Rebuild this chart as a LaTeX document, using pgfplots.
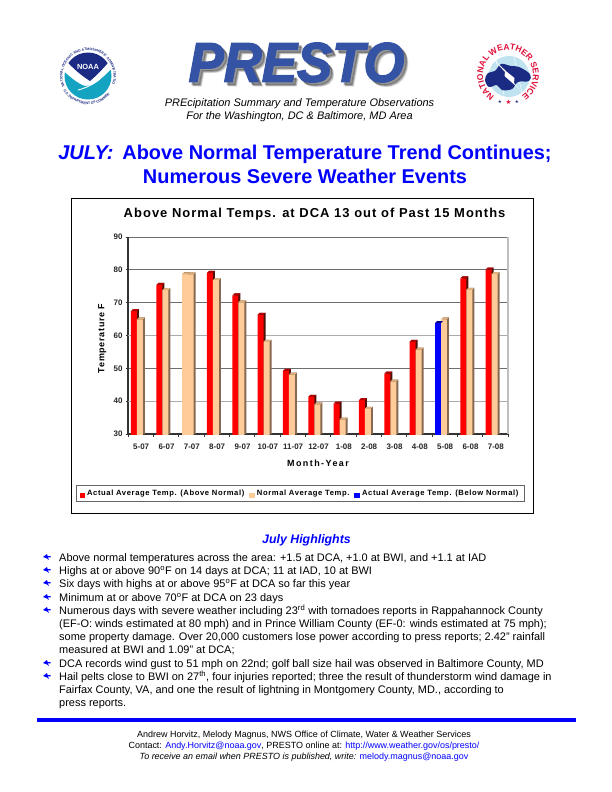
\documentclass[border=0pt]{standalone}
\usepackage{pgfplots}
\usepackage{pgfplotstable}
\usepackage{fontspec}
\pgfplotsset{compat=1.18}
\usetikzlibrary{decorations.text}
\setmainfont{Liberation Sans}
\newfontfamily\chartfont[LetterSpace=8]{Liberation Sans}
\newfontfamily\chartwide[LetterSpace=16]{Liberation Sans}
\newfontfamily\prestofont[FakeBold=2.5]{Liberation Sans}
\definecolor{peach}{HTML}{FFCC99}
\definecolor{peachside}{HTML}{86694F}
\definecolor{peachtop}{HTML}{DDB080}
\definecolor{redside}{HTML}{4A1208}
\definecolor{redtop}{HTML}{B00000}
\definecolor{blueside}{HTML}{000080}
\definecolor{prestoblue}{HTML}{3553A5}
\definecolor{noaanavy}{HTML}{1B2A83}
\definecolor{noaateal}{HTML}{14A3C0}
\definecolor{nwsred}{HTML}{E0103A}
\definecolor{nwspale}{HTML}{BFE3F0}
\definecolor{gridc}{HTML}{6E6E6E}
\definecolor{gridl}{HTML}{ABABAB}

\pgfdeclareplotmark{topface}{%
  \pgfpathmoveto{\pgfqpoint{-3bp}{-2bp}}%
  \pgfpathlineto{\pgfqpoint{-1bp}{0bp}}%
  \pgfpathlineto{\pgfqpoint{5bp}{0bp}}%
  \pgfpathlineto{\pgfqpoint{3bp}{-2bp}}%
  \pgfpathclose\pgfusepathqfill}

\pgfplotstableread{
x  above below near normal
0  68.0  nan   nan  65.5
1  76.0  nan   nan  74.4
2  nan   nan   79.2 79.2
3  79.7  nan   nan  77.5
4  72.8  nan   nan  70.7
5  66.9  nan   nan  58.7
6  49.8  nan   nan  48.7
7  41.9  nan   nan  39.6
8  39.9  nan   nan  35.0
9  40.9  nan   nan  38.3
10 49.0  nan   nan  46.6
11 58.7  nan   nan  56.3
12 nan   64.4  nan  65.5
13 78.0  nan   nan  74.5
14 80.7  nan   nan  79.3
}\tempdata

\newcommand{\backfaces}[5]{%
  \pgfmathsetmacro{\backshift}{#2+2}%
  \edef\temp{\noexpand\addplot[ybar,bar width=6bp,bar shift=\backshift bp,fill=#4,draw=none,forget plot] table[x=x,y=#1]{\noexpand\tempdata};}\temp
  \addplot[sharp plot,only marks,mark=topface,xshift=#2bp,mark options={fill=#5,draw=none},forget plot] table[x=x,y=#1]{\tempdata};
}
\newcommand{\frontface}[3]{%
  \addplot[ybar,bar width=6bp,bar shift=#2bp,yshift=-2bp,fill=#3,draw=none] table[x=x,y=#1]{\tempdata};
}

\begin{document}
\begin{tikzpicture}
\fill[white,use as bounding box] (0,0) rectangle (612bp,-792bp);

\begin{scope}[x=1bp,y=-1bp]
\draw[black,line width=1bp] (71,198) rectangle (533,513);
\end{scope}

\begin{axis}[
  at={(128bp,-434bp)},anchor=south west,
  scale only axis,width=380bp,height=197bp,
  xmin=-0.5,xmax=14.5,ymin=30,ymax=90,
  axis lines=left,axis line style={-,draw=black!80,line width=1.2bp},
  xtick={0,...,14},
  xticklabels={5-07,6-07,7-07,8-07,9-07,10-07,11-07,12-07,1-08,2-08,3-08,4-08,5-08,6-08,7-08},
  minor xtick={-0.5,0.5,...,14.5},
  ytick={30,50,70,80,90},
  extra y ticks={40,60},
  extra y tick style={grid style={gridl,line width=0.9bp}},
  ymajorgrids,grid style={gridc,line width=0.8bp},
  tick align=outside,
  major tick length=2.5bp,minor tick length=3bp,
  xtick style={draw=none},
  minor x tick style={draw=black!80,line width=0.7bp},
  ytick style={draw=black!80,line width=0.7bp},
  tick pos=left,
  /pgf/number format/assume math mode=true,
  tick label style={font=\fontsize{8}{9}\selectfont\bfseries\color{black!85}},
  xticklabel style={yshift=-4bp,xshift=0.5bp},
  yticklabel style={xshift=0.5bp},
  title={\chartfont\bfseries\fontsize{13}{15}\selectfont Above Normal Temps. at DCA 13 out of Past 15 Months},
  title style={at={(axis description cs:0.491,1.127)},anchor=center,yshift=-8bp},
  xlabel={\chartwide\bfseries\fontsize{9}{11}\selectfont Month-Year},
  xlabel style={at={(axis description cs:0.5,-0.147)},anchor=center},
  ylabel={\chartfont\bfseries\fontsize{9}{11}\selectfont Temperature F},
  ylabel style={at={(axis description cs:-0.068,0.485)},anchor=center,rotate=0},
  legend columns=3,
  legend style={at={(axis description cs:0.4526,-0.302)},anchor=center,
    draw=black!60,line width=0.7bp,fill=white,
    font=\chartfont\bfseries\fontsize{7.65}{9}\selectfont,
    inner xsep=3.5bp,inner ysep=2.5bp,
    /tikz/every even column/.append style={column sep=3bp},
    legend cell align=left},
  legend image code/.code={\fill[#1] (0bp,-2.8bp) rectangle (5.6bp,2.8bp);},
  clip=true,
  extra description/.code={
    \draw[black!25,line width=1.2bp] (rel axis cs:1,0) -- (rel axis cs:1,1);
  },
]
\backfaces{above}{-6.7}{}{redside}{redtop}
\frontface{above}{-6.7}{red}
\addlegendentry{Actual Average Temp. (Above Normal)}
\backfaces{below}{-6.7}{}{blueside}{blueside}
\backfaces{near}{-6.7}{}{peachside}{peachtop}
\addplot[ybar,bar width=6bp,bar shift=-6.7bp,yshift=-2bp,fill=peach,draw=none,forget plot] table[x=x,y=near]{\tempdata};
\backfaces{normal}{-0.7}{}{peachside}{peachtop}
\frontface{normal}{-0.7}{peach}
\addlegendentry{Normal Average Temp.}
\frontface{below}{-6.7}{blue}
\addlegendentry{Actual Average Temp. (Below Normal)}
\end{axis}

\begin{scope}[x=1bp,y=-1bp]
% masthead
\foreach \dx/\op in {4.2/0.1,3.4/0.15,2.6/0.22}{
  \node[font=\prestofont\bfseries\itshape\fontsize{56}{60}\selectfont,text=black,opacity=\op,xscale=0.945] at (296.5+\dx,62.5+\dx) {PRESTO};
}
\node[font=\prestofont\bfseries\itshape\fontsize{56}{60}\selectfont,text=prestoblue,xscale=0.945] at (296.5,62.5) {PRESTO};
\node[font=\itshape\fontsize{11}{13}\selectfont,anchor=base] at (299.5,106) {PREcipitation Summary and Temperature Observations};
\node[font=\itshape\fontsize{11}{13}\selectfont,anchor=base] at (299.5,119) {For the Washington, DC \& Baltimore, MD Area};
\node[font=\bfseries\fontsize{20}{24}\selectfont,text=blue,anchor=base] at (305,159) {\textit{JULY:}\hspace{9bp}Above Normal Temperature Trend Continues;};
\node[font=\bfseries\fontsize{20}{24}\selectfont,text=blue,anchor=base] at (305,183) {Numerous Severe Weather Events};
% highlights
\node[font=\bfseries\itshape\fontsize{12.4}{14}\selectfont,text=blue,anchor=base] at (306.5,543) {July Highlights};
\foreach \y/\t in {
 561/{Above normal temperatures across the area: +1.5 at DCA, +1.0 at BWI, and +1.1 at IAD},
 574/{Highs at or above 90\textsuperscript{o}F on 14 days at DCA; 11 at IAD, 10 at BWI},
 587/{Six days with highs at or above 95\textsuperscript{o}F at DCA so far this year},
 601/{Minimum at or above 70\textsuperscript{o}F at DCA on 23 days},
 614/{Numerous days with severe weather including 23\textsuperscript{rd} with tornadoes reports in Rappahannock County},
 627/{(EF-O: winds estimated at 80 mph) and in Prince William County (EF-0: winds estimated at 75 mph);},
 640/{some property damage. Over 20,000 customers lose power according to press reports; 2.42" rainfall},
 653/{measured at BWI and 1.09" at DCA;},
 667/{DCA records wind gust to 51 mph on 22nd; golf ball size hail was observed in Baltimore County, MD},
 680/{Hail pelts close to BWI on 27\textsuperscript{th}, four injuries reported; three the result of thunderstorm wind damage in},
 693/{Fairfax County, VA, and one the result of lightning in Montgomery County, MD., according to},
 706/{press reports.}
}{\node[font=\fontsize{11}{13}\selectfont,anchor=base west,inner sep=0pt] at (59,\y) {\t};}
\foreach \y in {557,570,583,597,610,663,676}{
  \fill[blue] (43,\y) -- (47,\y-3) -- (47.6,\y-1) -- (50.5,\y-1) -- (50.5,\y+0.3) -- (47.8,\y+0.3) -- (49,\y+3) -- (47.2,\y+1.6) -- cycle;
}
\fill[blue] (37,718) rectangle (576,722);
% footer
\node[font=\fontsize{9}{10}\selectfont,anchor=base] at (304,737) {Andrew Horvitz, Melody Magnus, NWS Office of Climate, Water \& Weather Services};
\node[font=\fontsize{9}{10}\selectfont,anchor=base] at (304,748) {Contact: \textcolor{blue}{Andy.Horvitz@noaa.gov}, PRESTO online at: \textcolor{blue}{http://www.weather.gov/os/presto/}};
\node[font=\fontsize{9}{10}\selectfont,anchor=base] at (304,759) {\textit{To receive an email when PRESTO is published, write:} \textcolor{blue}{melody.magnus@noaa.gov}};
\end{scope}

% NOAA logo
\begin{scope}[x=1bp,y=1bp,shift={(88bp,-76bp)}]
\begin{scope}
\clip (0,0) circle (23.5);
\fill[noaanavy] (-24,18) .. controls (-16,8) and (-6,0) .. (2,-5) .. controls (8,0) and (16,8) .. (24,18) -- (24,24) -- (-24,24) -- cycle;
\fill[noaateal] (-28,8) .. controls (-18,-1) and (-10,-8) .. (-3,-10) .. controls (7,-10) and (17,0) .. (28,12) -- (28,-30) -- (-28,-30) -- cycle;
\draw[white,line width=0.9bp] (-10,-14) .. controls (-2,-12) and (6,-8) .. (12,-3);
\end{scope}
\node[text=white,font=\bfseries\fontsize{7.5}{8}\selectfont] at (0,9.5) {NOAA};
\path[decorate,decoration={text along path,text align=center,
  text={|\bfseries\fontsize{3.5}{4}\selectfont\color{noaanavy}|NATIONAL OCEANIC AND ATMOSPHERIC ADMINISTRATION}}]
  (200:25.5) arc[start angle=200,end angle=-20,radius=25.5];
\path[decorate,decoration={text along path,text align=center,
  text={|\bfseries\fontsize{3.5}{4}\selectfont\color{noaanavy}|U.S. DEPARTMENT OF COMMERCE}}]
  (218:28.5) arc[start angle=218,end angle=322,radius=28.5];
\end{scope}

% NWS logo
\begin{scope}[x=1bp,y=1bp,shift={(508bp,-75bp)}]
\fill[nwspale] (1,-1.5) circle (20.5);
\draw[white,line width=0.4bp] (-19,6) -- (21,6) (-12,15) -- (-4,-20) (6,18) -- (14,-18);
\fill[noaanavy] plot[smooth cycle,tension=0.6] coordinates {(-23,-5) (-20,2) (-13,4) (-7,11) (3,9) (11,8) (22,1) (21,-6) (10,-7) (4,-14) (-6,-15) (-11,-10) (-19,-12)};
\fill[white] (-15,16) -- (-3,3) -- (-3.5,-1) -- (9,-12) -- (15,-19) -- (6,-8) -- (6.5,-3) -- (-1,3) -- cycle;
\path[decorate,decoration={text along path,text align=center,
  text={|\bfseries\fontsize{8.5}{9}\selectfont\color{nwsred}|NATIONAL WEATHER SERVICE}}]
  (232:25) arc[start angle=232,end angle=-52,radius=25];
\node[text=noaanavy,font=\fontsize{4.5}{5}\selectfont] at (-8,-27) {\fontspec{DejaVu Sans}★};
\node[text=nwsred,font=\fontsize{6.5}{7}\selectfont] at (0.5,-27.5) {\fontspec{DejaVu Sans}★};
\node[text=noaanavy,font=\fontsize{4.5}{5}\selectfont] at (9,-27) {\fontspec{DejaVu Sans}★};
\end{scope}
\end{tikzpicture}
\end{document}
